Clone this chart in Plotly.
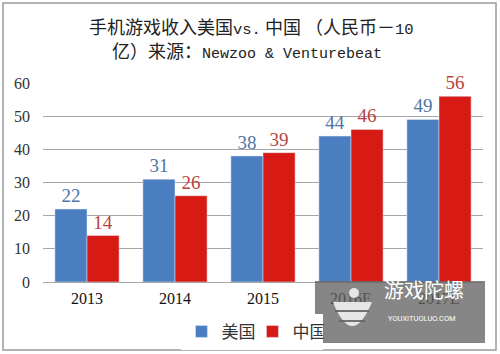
import plotly.graph_objects as go

years = ["2013", "2014", "2015", "2016E", "2017E"]
usa = [22, 31, 38, 44, 49]
china = [14, 26, 39, 46, 56]
tick_vals = [0, 10, 20, 30, 40, 50, 60]

serif = "Liberation Serif, DejaVu Serif, serif"
cjk = "Noto Sans CJK SC"
mono = "Liberation Mono"

fig = go.Figure()
fig.add_trace(go.Bar(
    x=years, y=usa, name="美国", marker_color="#4A7EC0",
    text=usa, textposition="outside",
    textfont=dict(family=serif, size=19, color="#4F74A8"),
    cliponaxis=False,
))
fig.add_trace(go.Bar(
    x=years, y=china, name="中国", marker_color="#D71A14",
    text=china, textposition="outside",
    textfont=dict(family=serif, size=19, color="#B8423E"),
    cliponaxis=False,
))

fig.update_layout(
    width=500, height=354,
    margin=dict(l=43, r=17, t=83, b=72, autoexpand=False),
    paper_bgcolor="white", plot_bgcolor="white",
    barmode="group", bargap=0.27, bargroupgap=0,
    xaxis=dict(
        showgrid=False, showline=False, ticks="",
        tickfont=dict(family=serif, size=16, color="#111111"),
        ticklabelstandoff=5,
    ),
    yaxis=dict(
        range=[0, 60], tickvals=tick_vals, showgrid=True,
        gridcolor="#A6A6A6", gridwidth=1, zeroline=True,
        zerolinecolor="#A6A6A6", zerolinewidth=1, ticks="",
        tickfont=dict(family=serif, size=16, color="#333333"),
        ticklabelstandoff=12,
    ),
    legend=dict(
        orientation="h", x=0.476, xanchor="center", y=-0.16, yanchor="top",
        font=dict(family=cjk, size=17, color="#333333"),
        itemwidth=30, traceorder="normal",
        entrywidth=26, entrywidthmode="pixels",
    ),
    showlegend=True,
)

def mix(parts, size):
    out = []
    for txt, latin in parts:
        if latin:
            out.append(f'<span style="font-family:{mono};font-size:{size}px">{txt}</span>')
        else:
            out.append(txt)
    return "".join(out)

line1 = mix([("手机游戏收入美国", False), ("vs.", True), (" 中国 （人民币－", False), ("10", True)], 15.5)
line2 = mix([("亿）来源：", False), ("Newzoo & Venturebeat", True)], 15)

def px(x):
    return (x - 43) / 440

def py(y):
    return (282 - y) / 199

fig.add_annotation(xref="paper", yref="paper", x=px(87), xanchor="left",
                   y=py(26), yanchor="middle", text=line1, showarrow=False,
                   font=dict(family=cjk, size=18, color="#222222"))
fig.add_annotation(xref="paper", yref="paper", x=px(110), xanchor="left",
                   y=py(50), yanchor="middle", text=line2, showarrow=False,
                   font=dict(family=cjk, size=18, color="#222222"))

# outer border
fig.add_shape(type="rect", xref="paper", yref="paper",
              x0=px(3), x1=px(496), y0=py(350), y1=py(3),
              line=dict(color="#9A9A9A", width=1.5), fillcolor="rgba(0,0,0,0)")

# watermark
fig.add_shape(type="rect", xref="paper", yref="paper",
              x0=px(315), x1=px(485), y0=py(343), y1=py(281),
              line=dict(width=0), fillcolor="rgba(100,100,100,0.78)")
# simple spinning-top logo
fig.add_shape(type="circle", xref="paper", yref="paper",
              x0=px(349), x1=px(359), y0=py(298), y1=py(288),
              line=dict(width=0), fillcolor="rgba(235,235,235,0.95)")
fig.add_shape(type="path", xref="paper", yref="paper",
              path="M {x0},{y0} Q {xm},{yb} {x1},{y0} Z".format(
                  x0=px(333), x1=px(372), xm=px(352), y0=py(302), yb=py(350)),
              line=dict(width=0), fillcolor="rgba(235,235,235,0.95)")
for yy, half in [(311, 17), (321, 13)]:
    fig.add_shape(type="line", xref="paper", yref="paper",
                  x0=px(352 - half), x1=px(352 + half), y0=py(yy), y1=py(yy),
                  line=dict(color="rgba(100,100,100,0.9)", width=2))
fig.add_annotation(xref="paper", yref="paper", x=px(382), xanchor="left", y=py(306),
                   text="游戏陀螺", showarrow=False,
                   font=dict(family=cjk, size=20, color="white"))
fig.add_annotation(xref="paper", yref="paper", x=px(386), xanchor="left", y=py(325),
                   text="YOUXITUOLUO.COM", showarrow=False,
                   font=dict(family="Roboto", size=7.5, color="white"))

fig.write_html("out.html")
